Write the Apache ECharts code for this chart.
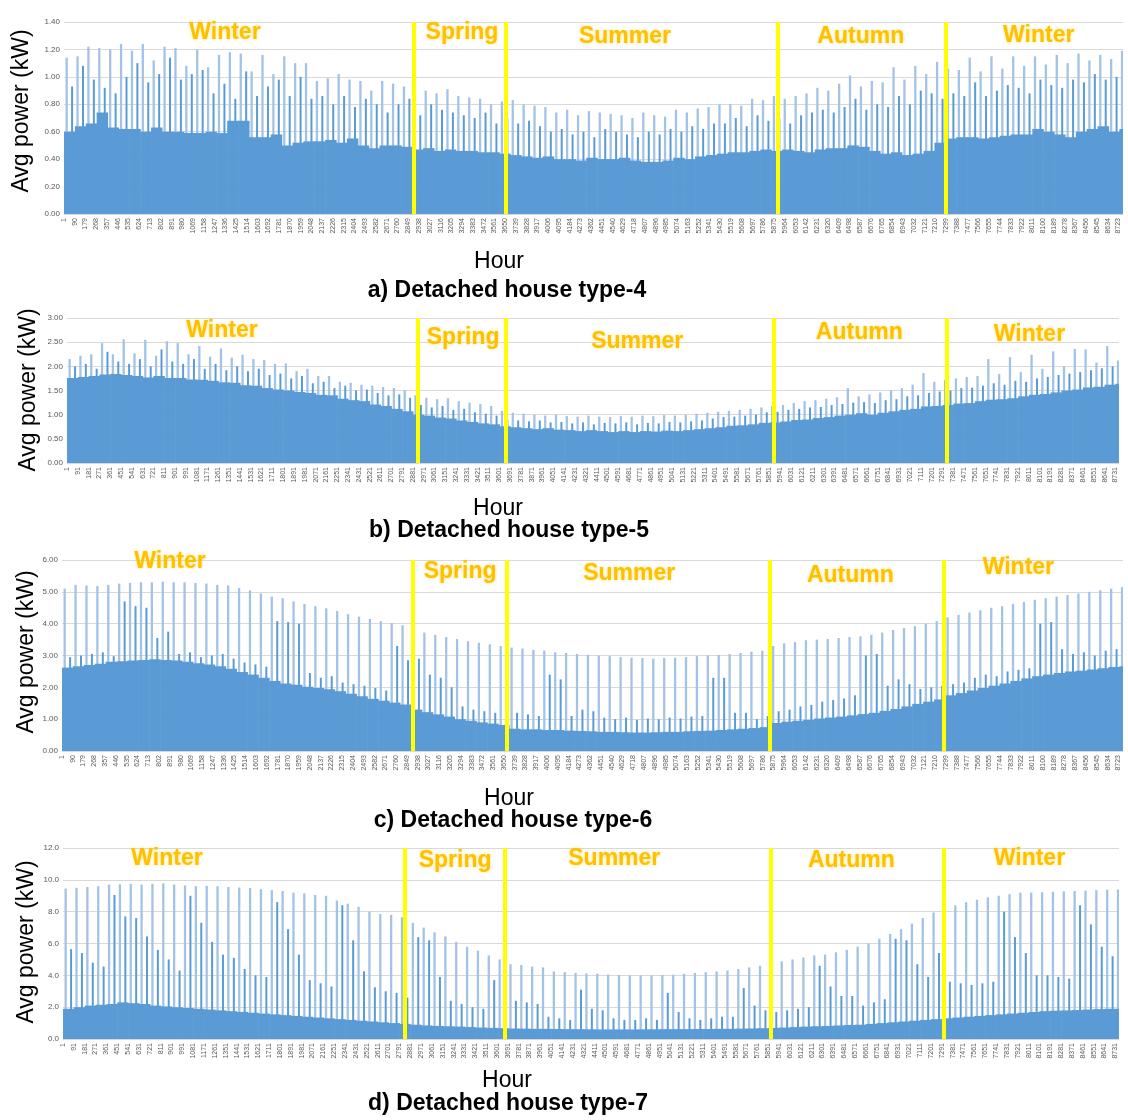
<!DOCTYPE html>
<html>
<head>
<meta charset="utf-8">
<script src="https://cdn.jsdelivr.net/npm/echarts@6/dist/echarts.min.js"></script>
<style>
  html, body { margin: 0; padding: 0; background: #ffffff; }
  #chart { width: 1128px; height: 1120px; }
</style>
</head>
<body>
<div id="chart"></div>
<script>
// Hourly load profiles, summarised in 90-hour blocks (block i covers hours 90*i .. 90*i+90).
// peak = tallest hourly value in the block, mid = typical daytime high, base = overnight floor.
const BLOCK_HOURS = 90;
const YEAR_HOURS = 8760;
const seasonNames = ['Winter', 'Spring', 'Summer', 'Autumn', 'Winter'];

// a) Detached house type-4
const aPeak = [1.14,1.15,1.22,1.21,1.20,1.24,1.19,1.24,1.12,1.22,
  1.21,1.08,1.20,1.07,1.16,1.18,1.17,1.04,1.16,1.02,
  1.15,1.10,1.10,0.97,0.99,1.02,0.98,0.97,0.90,0.97,
  0.95,0.93,0.92,0.90,0.88,0.91,0.86,0.85,0.84,0.80,
  0.82,0.83,0.80,0.79,0.78,0.74,0.76,0.72,0.75,0.74,
  0.73,0.72,0.70,0.74,0.72,0.71,0.76,0.74,0.77,0.78,
  0.80,0.80,0.79,0.84,0.83,0.86,0.84,0.86,0.88,0.92,
  0.90,0.95,1.01,0.93,0.97,0.96,1.07,0.98,1.08,1.02,
  1.11,1.06,1.05,1.14,1.04,1.15,1.06,1.15,1.08,1.15,
  1.09,1.16,1.10,1.17,1.12,1.16,1.13,1.19];
const aMid = [0.93,1.08,0.98,0.92,0.88,1.00,1.10,0.96,1.02,1.14,
  0.98,1.02,1.05,0.88,0.95,0.84,1.04,0.86,0.93,0.98,
  0.86,1.00,0.84,0.86,0.80,0.86,0.78,0.84,0.80,0.74,
  0.80,0.84,0.72,0.80,0.76,0.74,0.72,0.70,0.74,0.66,
  0.70,0.66,0.68,0.64,0.60,0.62,0.58,0.60,0.56,0.62,
  0.60,0.58,0.56,0.60,0.58,0.62,0.60,0.64,0.62,0.66,
  0.66,0.70,0.64,0.72,0.68,0.70,0.66,0.72,0.74,0.76,
  0.74,0.78,0.84,0.76,0.80,0.78,0.86,0.80,0.90,0.88,
  0.84,0.88,0.86,0.96,0.86,0.90,0.94,0.92,0.88,0.98,
  0.94,0.92,0.98,0.96,1.02,0.98,1.00,1.04];
const aBase = [0.60,0.64,0.66,0.74,0.63,0.62,0.62,0.60,0.63,0.60,
  0.60,0.59,0.59,0.60,0.59,0.68,0.68,0.56,0.56,0.58,
  0.50,0.52,0.53,0.53,0.54,0.52,0.55,0.50,0.48,0.50,
  0.50,0.49,0.47,0.48,0.46,0.47,0.46,0.46,0.45,0.45,
  0.44,0.43,0.42,0.41,0.42,0.40,0.40,0.39,0.41,0.40,
  0.40,0.41,0.39,0.38,0.38,0.39,0.41,0.40,0.42,0.43,
  0.44,0.45,0.45,0.46,0.47,0.46,0.47,0.46,0.45,0.47,
  0.48,0.48,0.50,0.49,0.46,0.44,0.45,0.43,0.44,0.46,
  0.52,0.55,0.56,0.56,0.55,0.56,0.57,0.58,0.58,0.62,
  0.60,0.58,0.56,0.60,0.62,0.64,0.60,0.62];
const aSeasonBounds = [2893, 3656, 5908, 7295];
const aSeasonLabelHour = [1331, 3292, 4640, 6591, 8063];
const aSeasonLabelKW = [1.32, 1.32, 1.29, 1.29, 1.30];

// b) Detached house type-5
const bPeak = [2.15,2.22,2.25,2.48,2.25,2.56,2.27,2.55,2.22,2.52,
  2.48,2.25,2.42,2.20,2.37,2.18,2.24,2.15,2.13,2.05,
  2.06,1.90,1.95,1.80,1.80,1.68,1.66,1.62,1.60,1.57,
  1.55,1.50,1.40,1.35,1.32,1.34,1.28,1.25,1.22,1.18,
  1.08,1.04,1.02,1.00,0.98,1.00,0.97,0.96,0.98,0.96,
  0.95,0.97,0.96,0.98,0.97,0.99,0.98,1.00,1.02,1.04,
  1.06,1.08,1.10,1.12,1.15,1.18,1.20,1.24,1.28,1.30,
  1.33,1.36,1.55,1.38,1.42,1.46,1.50,1.55,1.62,1.86,
  1.68,1.72,1.75,1.78,1.80,2.15,1.84,2.19,1.88,2.24,
  1.95,2.31,2.00,2.36,2.35,2.08,2.42,2.12];
const bMid = [2.00,2.05,1.95,2.30,2.10,2.05,2.15,2.00,2.35,2.10,
  2.05,2.15,1.95,2.05,1.92,2.00,1.90,1.95,1.82,1.85,
  1.75,1.80,1.65,1.68,1.55,1.60,1.50,1.52,1.45,1.40,
  1.42,1.35,1.20,1.15,1.18,1.10,1.12,1.05,1.02,0.98,
  0.90,0.88,0.86,0.88,0.84,0.85,0.82,0.84,0.80,0.83,
  0.82,0.84,0.80,0.83,0.82,0.85,0.84,0.86,0.88,0.92,
  0.95,0.96,0.98,1.00,1.05,1.06,1.10,1.12,1.15,1.16,
  1.20,1.22,1.25,1.26,1.24,1.30,1.32,1.38,1.40,1.45,
  1.48,1.50,1.55,1.56,1.60,1.65,1.62,1.70,1.68,1.75,
  1.78,1.82,1.85,1.88,1.92,1.96,2.00,2.05];
const bBase = [1.76,1.78,1.80,1.83,1.84,1.82,1.80,1.77,1.80,1.76,
  1.76,1.73,1.72,1.70,1.67,1.66,1.61,1.60,1.55,1.52,
  1.50,1.47,1.45,1.41,1.40,1.33,1.30,1.28,1.21,1.18,
  1.12,1.07,1.00,0.98,0.94,0.92,0.88,0.85,0.82,0.80,
  0.76,0.74,0.72,0.70,0.72,0.69,0.68,0.66,0.68,0.66,
  0.64,0.66,0.64,0.66,0.65,0.67,0.66,0.68,0.70,0.72,
  0.74,0.77,0.78,0.80,0.83,0.84,0.86,0.89,0.90,0.93,
  0.95,0.98,1.00,1.03,1.00,1.04,1.07,1.10,1.12,1.17,
  1.18,1.20,1.23,1.24,1.28,1.31,1.32,1.34,1.38,1.41,
  1.43,1.46,1.50,1.52,1.56,1.58,1.62,1.64];
const bSeasonBounds = [2920, 3657, 5884, 7324];
const bSeasonLabelHour = [1291, 3299, 4748, 6597, 8014];
const bSeasonLabelKW = [2.73, 2.59, 2.52, 2.69, 2.65];

// c) Detached house type-6
const cPeak = [5.10,5.22,5.20,5.18,5.22,5.26,5.28,5.30,5.30,5.32,
  5.30,5.30,5.28,5.26,5.22,5.20,5.12,5.05,4.95,4.85,
  4.80,4.70,4.62,4.55,4.48,4.40,4.30,4.22,4.15,4.08,
  4.02,3.95,3.80,3.72,3.65,3.58,3.52,3.45,3.40,3.35,
  3.30,3.25,3.22,3.18,3.15,3.10,3.08,3.05,3.02,3.00,
  2.98,2.95,2.93,2.92,2.90,2.92,2.93,2.95,2.98,3.00,
  3.02,3.05,3.08,3.12,3.15,3.30,3.38,3.42,3.48,3.50,
  3.52,3.55,3.58,3.60,3.65,3.72,3.80,3.86,3.92,4.00,
  4.08,4.20,4.28,4.35,4.42,4.50,4.55,4.62,4.68,4.75,
  4.80,4.85,4.90,4.95,5.00,5.05,5.10,5.15];
const cMid = [2.95,3.00,3.05,3.10,2.98,4.70,4.55,4.50,3.55,3.75,
  3.05,3.10,2.95,3.00,3.05,2.90,2.78,2.72,2.65,4.08,
  4.05,4.00,2.45,2.30,2.35,2.15,2.10,2.05,1.98,1.90,
  3.30,2.85,2.90,2.40,2.30,2.00,1.40,1.30,1.25,1.20,
  1.15,1.20,1.15,1.10,2.40,2.25,1.10,1.30,1.25,1.05,
  1.00,1.05,0.98,1.02,1.00,1.05,1.02,1.08,1.10,2.30,
  2.30,1.20,1.20,1.00,1.10,1.25,1.30,1.40,1.45,1.55,
  1.60,1.65,1.75,3.00,3.05,2.05,2.25,2.10,1.95,2.00,
  2.05,2.10,2.15,2.30,2.40,2.35,2.50,2.55,2.60,4.00,
  4.05,3.20,3.05,3.10,3.00,3.15,3.20,3.25];
const cBase = [2.62,2.66,2.70,2.74,2.80,2.82,2.84,2.86,2.88,2.86,
  2.84,2.80,2.76,2.72,2.66,2.58,2.48,2.40,2.30,2.20,
  2.12,2.08,2.02,1.98,1.94,1.88,1.80,1.72,1.64,1.58,
  1.52,1.46,1.30,1.22,1.15,1.08,1.00,0.95,0.90,0.86,
  0.82,0.70,0.68,0.68,0.66,0.66,0.64,0.63,0.62,0.60,
  0.60,0.59,0.58,0.58,0.59,0.60,0.60,0.62,0.63,0.64,
  0.66,0.68,0.70,0.72,0.75,0.88,0.92,0.95,0.98,1.02,
  1.05,1.08,1.12,1.16,1.20,1.26,1.32,1.40,1.48,1.55,
  1.62,1.75,1.82,1.90,1.98,2.05,2.12,2.20,2.28,2.35,
  2.40,2.45,2.50,2.52,2.56,2.60,2.64,2.66];
const cSeasonBounds = [2893, 3668, 5842, 7282];
const cSeasonLabelHour = [892, 3287, 4683, 6509, 7896];
const cSeasonLabelKW = [5.94, 5.62, 5.56, 5.50, 5.75];

// d) Detached house type-7
const dPeak = [9.45,9.50,9.55,9.60,9.70,9.72,9.75,9.70,9.75,9.78,
  9.70,9.65,9.60,9.62,9.60,9.55,9.52,9.48,9.42,9.35,
  9.30,9.20,9.15,9.05,9.00,8.70,8.50,8.30,8.00,7.85,
  7.80,7.65,7.30,7.00,6.70,6.45,6.10,5.80,5.55,5.25,
  5.00,4.70,4.65,4.55,4.50,4.25,4.20,4.15,4.12,4.10,
  4.05,4.02,4.00,4.00,4.00,4.02,4.04,4.10,4.15,4.20,
  4.25,4.30,4.40,4.50,4.60,4.75,4.88,5.00,5.12,5.25,
  5.30,5.45,5.60,5.80,6.00,6.30,6.60,6.90,7.25,7.60,
  7.95,8.20,8.40,8.60,8.75,8.90,9.00,9.10,9.20,9.20,
  9.22,9.25,9.28,9.30,9.32,9.35,9.38,9.40];
const dMid = [5.65,5.40,4.80,4.55,9.05,7.70,7.60,6.45,5.60,5.00,
  4.30,9.00,7.30,6.10,5.30,5.10,4.40,4.00,3.90,8.60,
  6.90,5.30,3.70,3.50,3.30,8.40,6.20,4.25,3.25,3.00,
  2.90,2.60,6.40,6.20,3.90,2.40,2.20,2.00,1.90,3.70,
  3.65,2.40,2.30,2.20,1.40,1.30,1.20,3.10,1.90,1.80,
  1.30,1.20,1.20,1.30,1.20,2.90,1.70,1.30,1.20,1.30,
  1.40,1.40,3.20,2.10,1.80,1.70,1.80,1.90,2.00,4.60,
  3.30,2.70,2.70,2.10,2.30,2.50,6.30,6.20,4.70,3.90,
  5.40,3.60,3.50,3.40,3.50,3.60,8.00,6.40,5.40,4.00,
  4.00,3.90,3.80,8.40,7.20,5.80,5.20,5.30];
const dBase = [1.90,2.00,2.10,2.15,2.20,2.30,2.25,2.20,2.10,2.05,
  2.00,1.95,1.90,1.85,1.80,1.75,1.70,1.65,1.60,1.55,
  1.50,1.45,1.40,1.35,1.30,1.25,1.20,1.15,1.10,1.05,
  1.00,0.95,0.90,0.85,0.82,0.80,0.78,0.75,0.72,0.70,
  0.68,0.66,0.65,0.64,0.64,0.63,0.62,0.62,0.61,0.60,
  0.60,0.60,0.60,0.61,0.61,0.62,0.62,0.62,0.63,0.63,
  0.64,0.64,0.65,0.66,0.68,0.70,0.72,0.75,0.78,0.80,
  0.82,0.85,0.88,0.90,0.95,1.00,1.05,1.10,1.15,1.20,
  1.25,1.30,1.35,1.40,1.45,1.50,1.55,1.60,1.65,1.70,
  1.75,1.78,1.80,1.82,1.85,1.88,1.90,1.90];
const dSeasonBounds = [2835, 3662, 5873, 7308];
const dSeasonLabelHour = [863, 3253, 4573, 6540, 8017];
const dSeasonLabelKW = [11.3, 11.2, 11.3, 11.2, 11.3];

// Panel layout and axis settings
const panels = [
  { title: 'a) Detached house type-4', peak: aPeak, mid: aMid, base: aBase,
    bounds: aSeasonBounds, labelHour: aSeasonLabelHour, labelKW: aSeasonLabelKW,
    yMax: 1.4, yStep: 0.2, digits: 2, hourStep: 89,
    grid: { left: 64, top: 22, width: 1059, height: 192 },
    yNamePos: [22, 111], hourPos: [499, 262], titlePos: [507, 291] },
  { title: 'b) Detached house type-5', peak: bPeak, mid: bMid, base: bBase,
    bounds: bSeasonBounds, labelHour: bSeasonLabelHour, labelKW: bSeasonLabelKW,
    yMax: 3.0, yStep: 0.5, digits: 2, hourStep: 90,
    grid: { left: 67, top: 318, width: 1052, height: 145 },
    yNamePos: [29, 390], hourPos: [498, 509], titlePos: [509, 531] },
  { title: 'c) Detached house type-6', peak: cPeak, mid: cMid, base: cBase,
    bounds: cSeasonBounds, labelHour: cSeasonLabelHour, labelKW: cSeasonLabelKW,
    yMax: 6, yStep: 1, digits: 2, hourStep: 89,
    grid: { left: 62, top: 560, width: 1061, height: 191 },
    yNamePos: [27, 652], hourPos: [509, 799], titlePos: [513, 821] },
  { title: 'd) Detached house type-7', peak: dPeak, mid: dMid, base: dBase,
    bounds: dSeasonBounds, labelHour: dSeasonLabelHour, labelKW: dSeasonLabelKW,
    yMax: 12, yStep: 2, digits: 1, hourStep: 90,
    grid: { left: 63, top: 848, width: 1056, height: 191 },
    yNamePos: [27, 942], hourPos: [507, 1081], titlePos: [508, 1104] }
];

const BAR_BLUE = '#5b9bd5';
const LIGHT_BLUE = '#a3c3e6';
const SEASON_GOLD = '#ffc000';
const FONT = '"Liberation Sans", Arial, sans-serif';

// Thin vertical spike from 0 up to the value, one per block
function spikeSeries(idx, values, offset, color, width) {
  return {
    type: 'custom', xAxisIndex: idx, yAxisIndex: idx,
    data: values.map((v, i) => [i * BLOCK_HOURS + offset, v]),
    encode: { x: 0, y: 1 },
    clip: true, silent: true, animation: false,
    renderItem: (params, api) => {
      const x = api.value(0), v = api.value(1);
      const p0 = api.coord([x, 0]);
      const p1 = api.coord([x, v]);
      return { type: 'line', shape: { x1: p0[0], y1: p0[1], x2: p1[0], y2: p1[1] },
               style: { stroke: color, lineWidth: width } };
    }
  };
}

// Solid floor of each block, plus season dividers and season names
function baseSeries(idx, p) {
  return {
    type: 'custom', xAxisIndex: idx, yAxisIndex: idx,
    data: p.base.map((v, i) => [i * BLOCK_HOURS, (i + 1) * BLOCK_HOURS, v]),
    encode: { x: [0, 1], y: 2 },
    clip: true, silent: true, animation: false,
    renderItem: (params, api) => {
      const x0 = api.value(0), x1 = Math.min(api.value(1), YEAR_HOURS), v = api.value(2);
      const a = api.coord([x0, v]);
      const b = api.coord([x1, 0]);
      return { type: 'rect', shape: { x: a[0], y: a[1], width: b[0] - a[0] + 0.6, height: b[1] - a[1] },
               style: { fill: BAR_BLUE } };
    },
    markLine: {
      silent: true, animation: false, symbol: ['none', 'none'],
      label: { show: false },
      lineStyle: { color: '#ffff00', width: 4, type: 'solid', opacity: 1 },
      emphasis: { disabled: true },
      data: p.bounds.map(h => ({ xAxis: h }))
    },
    markPoint: {
      silent: true, animation: false, symbol: 'circle', symbolSize: 1,
      itemStyle: { color: 'rgba(0,0,0,0)' },
      label: {
        show: true, position: 'inside', formatter: '{b}',
        color: SEASON_GOLD, fontFamily: FONT, fontWeight: 'bold', fontSize: 23,
        textShadowColor: 'rgba(255,200,0,0.55)', textShadowBlur: 3
      },
      data: seasonNames.map((name, k) => ({ name: name, coord: [p.labelHour[k], p.labelKW[k]] }))
    }
  };
}

const grids = [], xAxes = [], yAxes = [], series = [], graphics = [];
panels.forEach((p, i) => {
  grids.push(Object.assign({ containLabel: false }, p.grid));
  xAxes.push({
    type: 'value', gridIndex: i, min: 0, max: YEAR_HOURS, interval: p.hourStep,
    axisLine: { show: true, lineStyle: { color: '#d9d9d9', width: 1 } },
    axisTick: { show: false }, splitLine: { show: false },
    axisLabel: {
      rotate: 90, fontSize: 7, color: '#595959', fontFamily: FONT, margin: 4,
      showMaxLabel: false, showMinLabel: true,
      formatter: v => String(v + 1)
    }
  });
  yAxes.push({
    type: 'value', gridIndex: i, min: 0, max: p.yMax, interval: p.yStep,
    axisLine: { show: false }, axisTick: { show: false },
    splitLine: { lineStyle: { color: '#d9d9d9', width: 1 } },
    axisLabel: { fontSize: 8, color: '#595959', fontFamily: FONT, margin: 4,
                 formatter: v => v.toFixed(p.digits) }
  });
  series.push(spikeSeries(i, p.peak, 22, LIGHT_BLUE, 2.3));
  series.push(spikeSeries(i, p.mid, 67, BAR_BLUE, 2.0));
  series.push(baseSeries(i, p));

  graphics.push({
    type: 'text', x: p.yNamePos[0], y: p.yNamePos[1], rotation: Math.PI / 2,
    style: { text: 'Avg power (kW)', font: '23px ' + FONT, fill: '#000000',
             textAlign: 'center', textVerticalAlign: 'middle' }
  });
  graphics.push({
    type: 'text', x: p.hourPos[0], y: p.hourPos[1],
    style: { text: 'Hour', font: '23px ' + FONT, fill: '#000000',
             textAlign: 'center', textVerticalAlign: 'middle' }
  });
  graphics.push({
    type: 'text', x: p.titlePos[0], y: p.titlePos[1],
    style: { text: p.title, font: 'bold 23px ' + FONT, fill: '#000000',
             textAlign: 'center', textVerticalAlign: 'middle' }
  });
});

const chart = echarts.init(document.getElementById('chart'), null, { renderer: 'canvas' });
chart.setOption({
  backgroundColor: '#ffffff',
  animation: false,
  grid: grids,
  xAxis: xAxes,
  yAxis: yAxes,
  series: series,
  graphic: graphics
});
</script>
</body>
</html>
